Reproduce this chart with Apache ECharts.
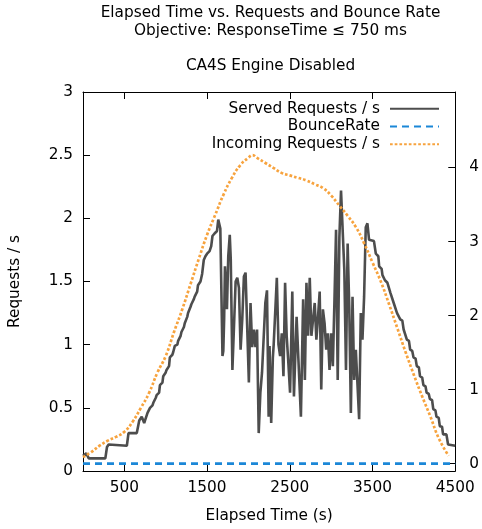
<!DOCTYPE html>
<html>
<head>
<meta charset="utf-8">
<script src="https://cdn.jsdelivr.net/npm/echarts@6/dist/echarts.min.js"></script>
<style>html,body{margin:0;padding:0;background:#fff}#c{width:482px;height:529px}</style>
</head>
<body>
<div id="c"></div>
<script>
// ---- data ----
const xTicks = [500, 1500, 2500, 3500, 4500];
const y2Ticks = [0, 1, 2, 3, 4];

const servedTime = [0,40,70,270,290,310,320,530,550,650,680,700,710,740,750,780,800,810,840,850,880,890,920,930,960,970,1000,1010,1040,1050,1080,1090,1110,1140,1150,1180,1190,1220,1230,1260,1270,1300,1310,1340,1350,1380,1390,1420,1440,1460,1480,1500,1530,1550,1565,1590,1620,1635,1650,1660,1686,1696,1706,1716,1726,1740,1756,1774,1786,1806,1826,1845,1865,1885,1905,1925,1945,1965,1985,2005,2025,2045,2065,2085,2104,2124,2144,2164,2184,2204,2224,2244,2255,2275,2295,2305,2323,2343,2363,2383,2403,2423,2443,2462,2482,2503,2530,2550,2582,2602,2634,2661,2682,2701,2721,2741,2761,2781,2801,2821,2841,2861,2880,2900,2920,2940,2960,2980,3000,3020,3040,3059,3079,3099,3119,3139,3159,3179,3199,3219,3238,3258,3278,3298,3318,3338,3358,3378,3398,3418,3438,3458,3517,3540,3570,3580,3610,3620,3650,3680,3700,3716,3740,3756,3780,3796,3820,3835,3860,3876,3900,3915,3940,3955,3980,3995,4020,4035,4060,4074,4100,4115,4140,4154,4180,4193,4220,4234,4260,4273,4300,4313,4340,4353,4393,4413,4500];
const servedRate = [0.12,0.14,0.10,0.10,0.19,0.21,0.20,0.20,0.30,0.30,0.40,0.40,0.43,0.38,0.40,0.46,0.47,0.50,0.52,0.54,0.58,0.60,0.62,0.68,0.70,0.75,0.78,0.80,0.83,0.90,0.92,0.94,0.99,1.00,1.03,1.07,1.10,1.14,1.17,1.22,1.25,1.30,1.32,1.36,1.38,1.42,1.47,1.50,1.56,1.67,1.70,1.72,1.74,1.78,1.86,1.88,1.90,1.99,2.00,1.92,0.91,0.95,1.20,1.62,1.62,1.28,1.70,1.87,1.68,0.80,0.80,1.50,1.53,1.45,0.96,1.20,1.54,1.57,1.57,0.70,1.33,0.98,1.12,0.98,1.12,0.30,0.62,0.78,0.78,1.33,1.43,0.43,0.99,0.38,0.90,1.00,1.25,1.53,1.00,0.91,1.09,0.75,1.49,1.07,0.86,0.62,1.42,0.59,1.22,0.91,0.43,1.36,0.72,1.49,1.07,1.53,1.07,1.07,1.33,1.04,1.22,1.42,0.645,1.28,1.17,0.96,1.09,0.80,1.09,0.83,1.36,1.91,0.72,1.85,2.22,2.22,1.59,0.80,1.80,1.28,0.46,1.38,0.72,0.96,0.96,0.41,1.25,1.04,1.38,1.93,1.96,1.83,1.82,1.72,1.70,1.62,1.60,1.55,1.51,1.49,1.48,1.41,1.40,1.33,1.32,1.25,1.24,1.20,1.19,1.12,1.11,1.04,1.03,0.96,0.95,0.90,0.89,0.83,0.82,0.75,0.74,0.68,0.67,0.62,0.61,0.57,0.56,0.49,0.48,0.43,0.42,0.355,0.35,0.29,0.29,0.21,0.20];

const bounceTime = [0, 4500];
const bounceRate = [0, 0];

const incomingTime = [0,100,200,300,400,500,600,700,800,900,1000,1100,1200,1300,1400,1500,1600,1700,1800,1900,2000,2050,2100,2200,2300,2400,2500,2600,2700,2800,2900,3000,3100,3200,3300,3400,3500,3600,3700,3800,3900,4000,4100,4200,4300,4420];
const incomingRate = [0.11,0.15,0.20,0.24,0.27,0.31,0.39,0.50,0.62,0.78,0.91,1.10,1.28,1.48,1.68,1.87,2.03,2.19,2.32,2.42,2.48,2.50,2.48,2.44,2.40,2.36,2.34,2.32,2.30,2.27,2.24,2.18,2.10,2.02,1.93,1.80,1.65,1.50,1.32,1.13,0.94,0.76,0.59,0.43,0.26,0.12];

const zip = (a, b) => a.map((t, i) => [t, b[i]]);

// ---- chart ----
const FONT = 'DejaVu Sans';
const FS = 15.3;
const chart = echarts.init(document.getElementById('c'), null, {renderer: 'canvas'});
const axisLine = {show: true, onZero: false, lineStyle: {color: '#000', width: 1}};
const tick = (vals) => ({show: true, inside: true, length: 7, lineStyle: {color: '#000', width: 1}, customValues: vals});
const lbl = {color: '#000', fontFamily: FONT, fontSize: FS, formatter: v => String(v)};
const legendBase = {right: 42, padding: 0, align: 'right', orient: 'vertical',
  itemWidth: 49, itemHeight: 14, selectedMode: false, itemStyle: {opacity: 0},
  textStyle: {fontFamily: FONT, fontSize: FS, color: '#000', padding: [0, 5, 0, 0]}};

chart.setOption({
  animation: false,
  backgroundColor: '#fff',
  textStyle: {fontFamily: FONT},
  title: [
    {text: 'Elapsed Time vs. Requests and Bounce Rate\nObjective: ResponseTime \u2264 750 ms',
     left: 270.5, top: 4.5, padding: 0, textAlign: 'center',
     textStyle: {fontFamily: FONT, fontSize: FS, fontWeight: 'normal', color: '#000', lineHeight: 17.7}},
    {text: 'CA4S Engine Disabled', left: 270.5, top: 57, padding: 0, textAlign: 'center',
     textStyle: {fontFamily: FONT, fontSize: FS, fontWeight: 'normal', color: '#000', lineHeight: 17.7}}
  ],
  legend: [
    Object.assign({data: ['Served Requests / s'], top: 101.3}, legendBase),
    Object.assign({data: ['BounceRate'], top: 119}, legendBase),
    Object.assign({data: ['Incoming Requests / s'], top: 136.7}, legendBase)
  ],
  grid: {left: 82, top: 92, width: 377, height: 380, containLabel: false},
  xAxis: [
    {type: 'value', position: 'bottom', min: 0, max: 4500, interval: 500,
     axisLine, axisTick: tick(xTicks), splitLine: {show: false},
     axisLabel: Object.assign({margin: 10, customValues: xTicks}, lbl),
     name: 'Elapsed Time (s)', nameLocation: 'middle', nameGap: 38,
     nameTextStyle: {fontFamily: FONT, fontSize: FS, color: '#000'}},
    {type: 'value', position: 'top', min: 0, max: 4500, interval: 500,
     axisLine, axisTick: tick([500, 1500, 2500, 3500]), splitLine: {show: false},
     axisLabel: {show: false}}
  ],
  yAxis: [
    {type: 'value', position: 'left', min: 0, max: 3, interval: 0.5,
     axisLine, axisTick: {show: true, inside: true, length: 7, lineStyle: {color: '#000', width: 1}},
     splitLine: {show: false},
     axisLabel: Object.assign({margin: 10}, lbl),
     name: 'Requests / s', nameLocation: 'middle', nameGap: 60, nameRotate: 90,
     nameTextStyle: {fontFamily: FONT, fontSize: FS, color: '#000'}},
    {type: 'value', position: 'right', min: -0.1, max: 5.02,
     axisLine, axisTick: tick(y2Ticks), splitLine: {show: false},
     axisLabel: Object.assign({margin: 14, customValues: y2Ticks}, lbl)}
  ],
  series: [
    {name: 'Served Requests / s', type: 'line', xAxisIndex: 0, yAxisIndex: 0,
     data: zip(servedTime, servedRate), symbol: 'circle', showSymbol: false, smooth: false,
     lineStyle: {color: '#4d4d4d', width: 2.6}, itemStyle: {color: '#4d4d4d'}},
    {name: 'BounceRate', type: 'line', xAxisIndex: 0, yAxisIndex: 1,
     data: zip(bounceTime, bounceRate), symbol: 'circle', showSymbol: false,
     lineStyle: {color: '#1b87d7', width: 2.6, type: [7, 5]}, itemStyle: {color: '#1b87d7'}},
    {name: 'Incoming Requests / s', type: 'line', xAxisIndex: 0, yAxisIndex: 0,
     data: zip(incomingTime, incomingRate), symbol: 'circle', showSymbol: false, smooth: true,
     lineStyle: {color: '#f7a33e', width: 2.7, type: [2.7, 2]}, itemStyle: {color: '#f7a33e'}}
  ]
});
</script>
</body>
</html>
